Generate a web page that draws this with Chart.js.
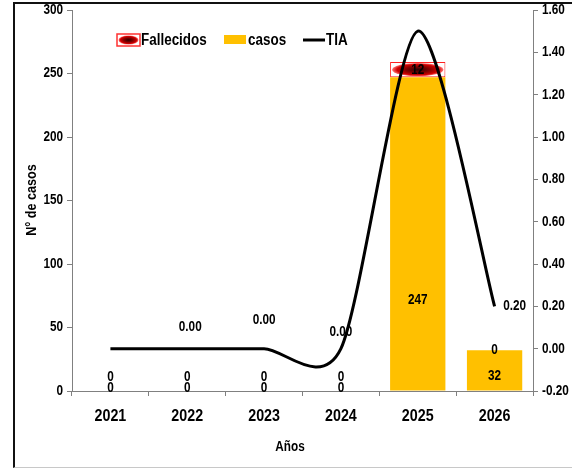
<!DOCTYPE html>
<html>
<head>
<meta charset="utf-8">
<script src="https://cdn.jsdelivr.net/npm/chart.js@4.4.1/dist/chart.umd.min.js"></script>
<style>
  body { margin: 0; background: #fff; }
  #wrap { position: relative; width: 572px; height: 468px; overflow: hidden; }
  #frame { position: absolute; left: 13px; top: 2px; width: 570px; height: 463px;
           border-left: 2px solid #111; border-top: 2px solid #111; border-bottom: 1px solid #c8c8c8; }
  canvas { position: absolute; left: 0; top: 0; }
</style>
</head>
<body>
<div id="wrap">
  <div id="frame"></div>
  <canvas id="tiaChart" width="572" height="468"></canvas>
</div>
<script>
// data
const years = ['2021', '2022', '2023', '2024', '2025', '2026'];
const casos = [0, 0, 0, 0, 247, 32];
const fallecidos = [0, 0, 0, 0, 12, 0];
const tia = [0, 0, 0, 0, 1.5, 0.2];

const FONT = "'Liberation Sans', Arial, sans-serif";
Chart.defaults.font.family = FONT;
Chart.defaults.color = '#000';

// label nudges (pixels), only styling
const tiaLabelPos = [null, [3, -22], [0, -29], [0, -17], null, [20, 0]];
const casosLabelDy = [-3, -3, -3, -3, 66, 6];

// narrow text: squeeze horizontally like the original narrow font
function narrowText(ctx, text, x, y, size, align) {
    ctx.save();
    ctx.font = 'bold ' + size + 'px ' + FONT;
    ctx.textAlign = align || 'center';
    ctx.textBaseline = 'middle';
    ctx.translate(x, y);
    ctx.scale(0.84, 1);
    ctx.fillText(text, 0, 0);
    ctx.restore();
}

function redEllipse(ctx, cx, cy, rx, ry) {
    ctx.save();
    ctx.translate(cx, cy);
    ctx.scale(1, ry / rx);
    const g = ctx.createRadialGradient(0, 0, 0, 0, 0, rx);
    g.addColorStop(0, '#2a0000');
    g.addColorStop(0.45, '#800000');
    g.addColorStop(0.8, '#d00000');
    g.addColorStop(1, '#ff7070');
    ctx.fillStyle = g;
    ctx.beginPath();
    ctx.arc(0, 0, rx, 0, Math.PI * 2);
    ctx.fill();
    ctx.restore();
}

const decorPlugin = {
    id: 'decor',
    afterDatasetDraw(chart, args) {
        const ds = chart.data.datasets[args.index];
        const ctx = chart.ctx;
        if (ds.label === 'Fallecidos') {
            // glossy ellipse inside the Fallecidos bars
            args.meta.data.forEach((bar, i) => {
                if (!fallecidos[i]) return;
                const h = Math.abs(bar.base - bar.y);
                redEllipse(ctx, bar.x, (bar.y + bar.base) / 2, bar.width / 2 - 2, h / 2 - 1);
            });
        }
        if (ds.label === 'TIA') {
            // Excel-style smoothed curve through the points placed by the scales
            const pts = args.meta.data.map(p => ({ x: p.x, y: p.y }));
            const k = 0.13;
            ctx.save();
            ctx.strokeStyle = '#000';
            ctx.lineWidth = 3;
            ctx.lineJoin = 'round';
            ctx.beginPath();
            ctx.moveTo(pts[0].x, pts[0].y);
            for (let i = 0; i < pts.length - 1; i++) {
                const p0 = pts[Math.max(i - 1, 0)];
                const p1 = pts[i];
                const p2 = pts[i + 1];
                const p3 = pts[Math.min(i + 2, pts.length - 1)];
                ctx.bezierCurveTo(
                    p1.x + (p2.x - p0.x) * k, p1.y + (p2.y - p0.y) * k,
                    p2.x - (p3.x - p1.x) * k, p2.y - (p3.y - p1.y) * k,
                    p2.x, p2.y);
            }
            ctx.stroke();
            ctx.restore();
        }
    },
    afterDraw(chart) {
        const ctx = chart.ctx;
        ctx.save();
        ctx.fillStyle = '#000';

        // tick labels from the library's scales, drawn narrow
        const sx = chart.scales.x, sy = chart.scales.y, sy1 = chart.scales.y1;
        sx.ticks.forEach((t, i) => narrowText(ctx, String(t.label), sx.getPixelForTick(i), 416, 17));
        sy.ticks.forEach((t, i) => narrowText(ctx, String(t.label), 63, sy.getPixelForTick(i), 14, 'right'));
        sy1.ticks.forEach((t, i) => narrowText(ctx, String(t.label), 542, sy1.getPixelForTick(i), 14, 'left'));

        // bar labels
        const casosMeta = chart.getDatasetMeta(1);
        const fallMeta = chart.getDatasetMeta(2);
        casosMeta.data.forEach((bar, i) => {
            const cy = (bar.y + bar.base) / 2 + casosLabelDy[i];
            narrowText(ctx, String(casos[i]), bar.x, cy, 14);
        });
        fallMeta.data.forEach((bar, i) => {
            let cy = (bar.y + bar.base) / 2;
            if (!fallecidos[i]) cy -= casos[i] ? 0 : 14;
            narrowText(ctx, String(fallecidos[i]), bar.x, cy, 14);
        });

        // TIA labels
        const lineMeta = chart.getDatasetMeta(0);
        lineMeta.data.forEach((pt, i) => {
            const p = tiaLabelPos[i];
            if (!p) return;
            narrowText(ctx, tia[i].toFixed(2), pt.x + p[0], pt.y + p[1], 14);
        });

        // axis titles
        ctx.save();
        ctx.translate(32, 200);
        ctx.rotate(-Math.PI / 2);
        narrowText(ctx, 'N° de casos', 0, 0, 15);
        ctx.restore();
        narrowText(ctx, 'Años', 290, 447, 14);

        // legend
        const ly = 40;
        // Fallecidos
        ctx.fillStyle = '#fff';
        ctx.fillRect(117, ly - 6, 23, 12);
        ctx.strokeStyle = '#ff3030';
        ctx.lineWidth = 1.5;
        ctx.strokeRect(117, ly - 6, 23, 12);
        redEllipse(ctx, 128.5, ly, 10, 4.5);
        ctx.fillStyle = '#000';
        narrowText(ctx, chart.data.datasets[2].label, 141, ly + 1, 16, 'left');
        // casos
        ctx.fillStyle = '#FFC000';
        ctx.fillRect(224, ly - 5, 22, 9);
        ctx.fillStyle = '#000';
        narrowText(ctx, chart.data.datasets[1].label, 248, ly + 1, 16, 'left');
        // TIA
        ctx.strokeStyle = '#000';
        ctx.lineWidth = 3;
        ctx.beginPath();
        ctx.moveTo(303, ly);
        ctx.lineTo(325, ly);
        ctx.stroke();
        narrowText(ctx, chart.data.datasets[0].label, 326, ly + 1, 16, 'left');
        ctx.restore();
    }
};

const ctx = document.getElementById('tiaChart').getContext('2d');
new Chart(ctx, {
    type: 'bar',
    data: {
        labels: years,
        datasets: [
            {
                type: 'line',
                label: 'TIA',
                data: tia,
                yAxisID: 'y1',
                borderColor: 'rgba(0,0,0,0)',
                borderWidth: 0,
                showLine: false,
                pointRadius: 0,
                fill: false,
                order: 0
            },
            {
                label: 'casos',
                data: casos,
                backgroundColor: '#FFC000',
                borderWidth: 0,
                barPercentage: 0.72,
                categoryPercentage: 1,
                order: 1
            },
            {
                label: 'Fallecidos',
                data: fallecidos,
                backgroundColor: '#fff',
                borderColor: '#ff2020',
                borderWidth: 1,
                borderSkipped: false,
                barPercentage: 0.72,
                categoryPercentage: 1,
                order: 1
            }
        ]
    },
    options: {
        responsive: false,
        animation: false,
        layout: { padding: { top: 10, left: 0, right: 0, bottom: 0 } },
        plugins: {
            legend: { display: false },
            tooltip: { enabled: false }
        },
        scales: {
            x: {
                stacked: true,
                grid: { drawOnChartArea: false, drawTicks: true, tickLength: 5, color: '#808080', offset: true },
                border: { display: true, color: '#808080' },
                ticks: { display: false },
                afterFit: (s) => { s.height = 77; }
            },
            y: {
                stacked: true,
                min: 0,
                max: 300,
                ticks: { stepSize: 50, display: false },
                grid: { drawOnChartArea: false, drawTicks: true, tickLength: 5, color: '#808080' },
                border: { display: true, color: '#808080' },
                afterFit: (s) => { s.width = 72; }
            },
            y1: {
                position: 'right',
                min: -0.2,
                max: 1.6,
                ticks: {
                    stepSize: 0.2,
                    display: false,
                    callback: (v) => Number(v).toFixed(2)
                },
                grid: { drawOnChartArea: false, drawTicks: true, tickLength: 5, color: '#808080' },
                border: { display: true, color: '#808080' },
                afterFit: (s) => { s.width = 39; }
            }
        }
    },
    plugins: [decorPlugin]
});
</script>
</body>
</html>
